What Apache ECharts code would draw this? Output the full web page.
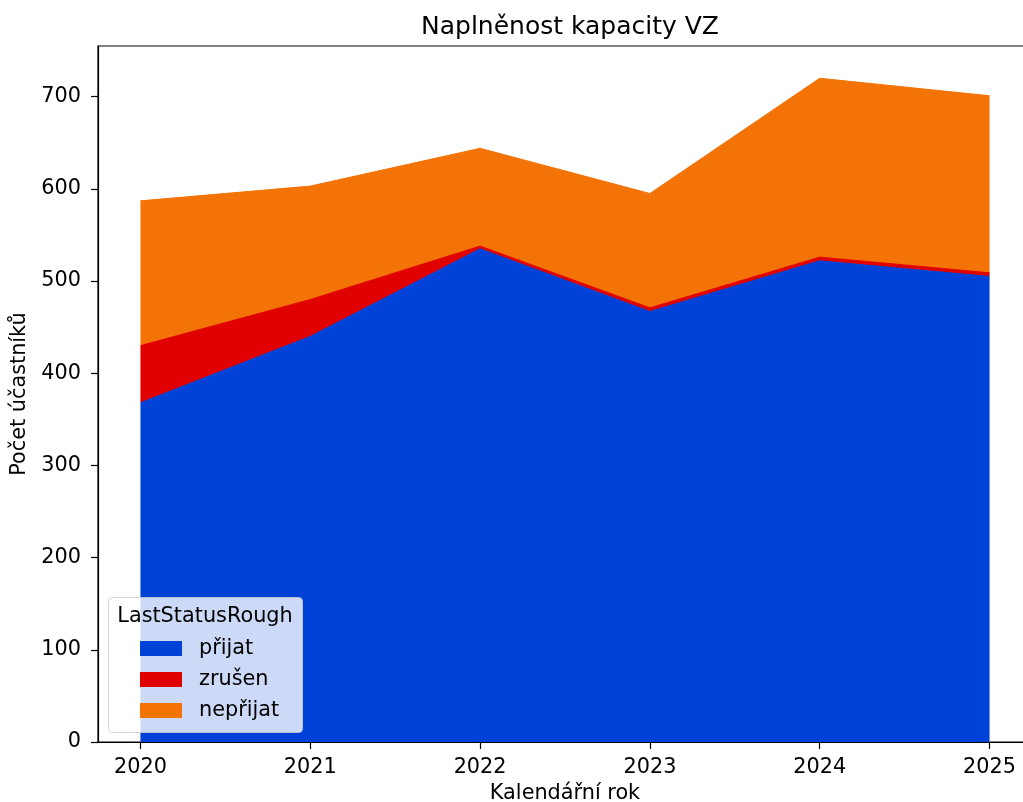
<!DOCTYPE html>
<html>
<head>
<meta charset="utf-8">
<script src="https://cdn.jsdelivr.net/npm/echarts@6/dist/echarts.min.js"></script>
<style>
  html, body { margin: 0; padding: 0; background: #fff; }
  #chart { width: 1023px; height: 802px; }
</style>
</head>
<body>
<div id="chart"></div>
<script>
const years = [2020, 2021, 2022, 2023, 2024, 2025];
const prijat = [368, 440, 535, 467, 522, 505];
const zrusen = [62, 40, 3, 4, 4, 4];
const neprijat = [157, 123, 106, 124, 194, 192];
const yTicks = [0, 100, 200, 300, 400, 500, 600, 700];
const seriesNames = ['přijat', 'zrušen', 'nepřijat'];
const colors = ['#0041d8', '#e00000', '#f37307'];

const FONT = 'DejaVu Sans';
const FS = 20.8;
const chart = echarts.init(document.getElementById('chart'), null, { renderer: 'canvas' });

function mk(name, vals, color) {
  return {
    name: name,
    type: 'line',
    stack: 'total',
    symbol: 'none',
    z: 2,
    // count first so that it is the dimension the library stacks
    encode: { x: 1, y: 0 },
    data: years.map((y, i) => [vals[i], y]),
    lineStyle: { width: 1, color: color },
    itemStyle: { color: color },
    areaStyle: { color: color, opacity: 1 }
  };
}

chart.setOption({
  animation: false,
  backgroundColor: '#fff',
  textStyle: { fontFamily: FONT },
  title: {
    text: 'Naplněnost kapacity VZ',
    left: 565, textAlign: 'center', top: 10,
    textStyle: { fontFamily: FONT, fontSize: 25, fontWeight: 'normal', color: '#000' }
  },
  grid: {
    left: 98, top: 46, right: -9, bottom: 60,
    outerBoundsMode: 'none',
    containLabel: false,
    show: true, borderColor: '#000', borderWidth: 1.2, backgroundColor: 'transparent'
  },
  xAxis: {
    type: 'value',
    min: 2019.75, max: 2025.25,
    name: 'Kalendářní rok',
    nameLocation: 'middle', nameGap: 41,
    nameTextStyle: { fontFamily: FONT, fontSize: FS, color: '#000' },
    axisLine: { show: true, lineStyle: { color: '#000', width: 1.2 } },
    axisTick: { show: true, customValues: years, length: 7, lineStyle: { color: '#000', width: 1.2 } },
    axisLabel: { customValues: years, formatter: v => String(Math.round(v)), margin: 15,
      fontFamily: FONT, fontSize: FS, color: '#000' },
    splitLine: { show: false }
  },
  yAxis: {
    type: 'value',
    min: 0, max: 755,
    name: 'Počet účastníků',
    nameLocation: 'middle', nameGap: 67, nameRotate: 90,
    nameTextStyle: { fontFamily: FONT, fontSize: FS, color: '#000' },
    axisLine: { show: true, lineStyle: { color: '#000', width: 1.2 } },
    axisTick: { show: true, customValues: yTicks, length: 7, lineStyle: { color: '#000', width: 1.2 } },
    axisLabel: { customValues: yTicks, margin: 17, fontFamily: FONT, fontSize: FS, color: '#000' },
    splitLine: { show: false }
  },
  legend: {
    data: seriesNames,
    orient: 'vertical',
    left: 135, top: 633,
    z: 10,
    icon: 'rect',
    itemWidth: 42, itemHeight: 15, itemGap: 10,
    textStyle: { fontFamily: FONT, fontSize: FS, color: '#000', padding: [0, 0, 0, 12] },
    selectedMode: false
  },
  graphic: [
    {
      type: 'rect', z: 5,
      shape: { x: 108.5, y: 597.5, width: 194, height: 135, r: 4 },
      style: { fill: 'rgba(255,255,255,0.8)', stroke: 'rgba(204,204,204,0.8)', lineWidth: 1 }
    },
    {
      type: 'text', z: 6,
      x: 205, y: 617,
      style: { text: 'LastStatusRough', fontFamily: FONT, fontSize: FS, fill: '#000',
        align: 'center', verticalAlign: 'middle' }
    }
  ],
  series: [
    mk(seriesNames[0], prijat, colors[0]),
    mk(seriesNames[1], zrusen, colors[1]),
    mk(seriesNames[2], neprijat, colors[2])
  ]
});
</script>
</body>
</html>
